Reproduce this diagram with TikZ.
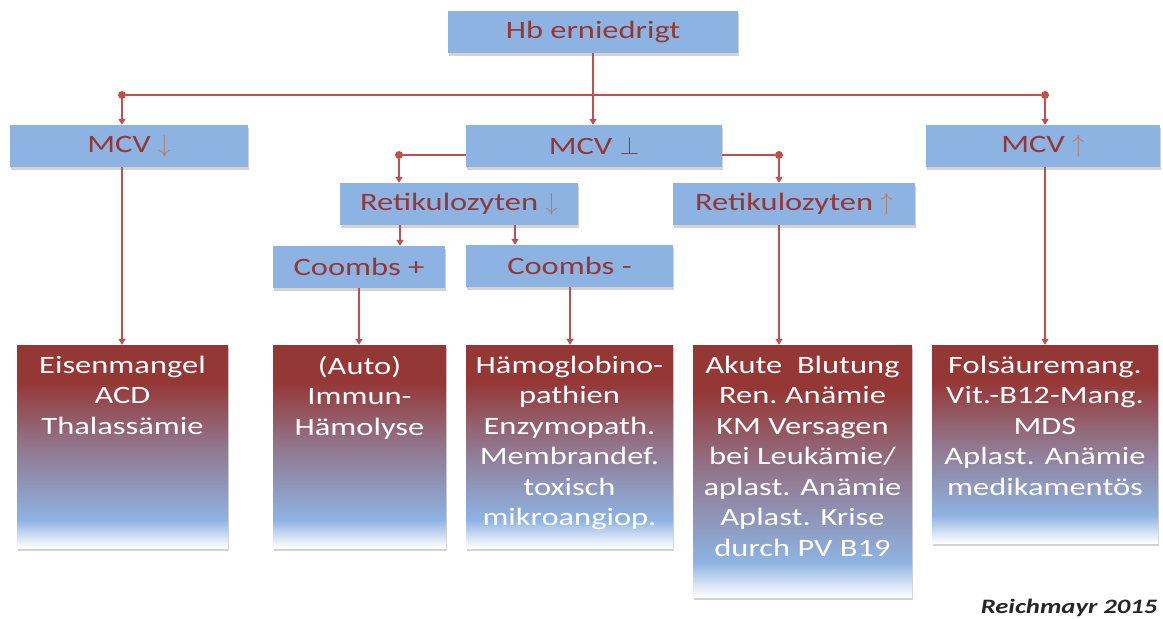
\documentclass[tikz,border=0pt]{standalone}
\usepackage{fontspec}
\setmainfont{Carlito}[FakeStretch=1.3]
\usetikzlibrary{arrows.meta,positioning,shadows}
\definecolor{boxblue}{RGB}{141,179,226}
\definecolor{boxred}{RGB}{149,55,53}
\definecolor{linered}{RGB}{192,80,77}
\definecolor{mauve}{RGB}{146,118,140}
\definecolor{arrowcol}{RGB}{180,125,105}
\pgfdeclareverticalshading{redfade}{100bp}{color(0bp)=(white); color(25bp)=(white); color(32bp)=(boxblue); color(50bp)=(mauve); color(66bp)=(boxred); color(100bp)=(boxred)}
\begin{document}
\begin{tikzpicture}[x=1pt, y=-1pt,
  topbox/.style={fill=boxblue, text=boxred, inner sep=0pt, minimum height=42pt,
    font=\fontsize{25}{30}\selectfont,
    drop shadow={shadow xshift=1pt, shadow yshift=-3pt, opacity=.35}},
  endbox/.style={shading=redfade, inner sep=0pt,
    drop shadow={shadow xshift=1pt, shadow yshift=-3pt, opacity=.35}},
  endtxt/.style={text=white, align=center, inner sep=0pt, font=\fontsize{25}{30.5}\selectfont},
  link/.style={draw=linered, line width=1.6pt},
  conn/.style={link, -{Triangle[length=6pt,width=7pt]}},
  dot/.style={circle, fill=linered, inner sep=0pt, minimum size=8pt}]
\useasboundingbox (0,0) rectangle (1163,619);

\node[topbox, minimum width=290pt] (hb) at (593,32) {Hb erniedrigt};
\node[topbox, minimum width=238pt] (mcvd) at (129,146) {MCV {\color{arrowcol}$\downarrow$}};
\node[topbox, minimum width=256pt] (mcvn) at (594,146) {MCV $\perp$};
\node[topbox, minimum width=234pt] (mcvu) at (1043,146) {MCV {\color{arrowcol}$\uparrow$}};
\node[topbox, minimum width=238pt] (retd) at (459,204) {Retikulozyten {\color{arrowcol}$\downarrow$}};
\node[topbox, minimum width=242pt] (retu) at (794,204) {Retikulozyten {\color{arrowcol}$\uparrow$}};
\node[topbox, minimum width=172pt] (coomp) at (359,267) {Coombs +};
\node[topbox, minimum width=207pt] (coomn) at (569.5,266) {Coombs -};

\node[endbox, minimum width=211pt, minimum height=203pt] (e1) at (122.5,446.5) {};
\node[endbox, minimum width=173pt, minimum height=203pt] (e2) at (359.5,446.5) {};
\node[endbox, minimum width=207pt, minimum height=203pt] (e3) at (569.5,446.5) {};
\node[endbox, minimum width=219pt, minimum height=252pt] (e4) at (802.5,471) {};
\node[endbox, minimum width=226pt, minimum height=198pt] (e5) at (1045,444) {};

\node[endtxt, below=11pt of e1.north] (t1) {Eisenmangel\\ACD\\Thalassämie};
\node[endtxt, below=11pt of e2.north] (t2) {(Auto)\\Immun-\\Hämolyse};
\node[endtxt, below=11pt of e3.north] (t3) {Hämoglobino-\\pathien\\Enzymopath.\\Membrandef.\\toxisch\\mikroangiop.};
\node[endtxt, below=11pt of e4.north] (t4) {Akute\ \ Blutung\\Ren.\ Anämie\\KM Versagen\\bei Leukämie/\\aplast. Anämie\\Aplast. Krise\\durch PV B19};
\node[endtxt, below=11pt of e5.north] (t5) {Folsäuremang.\\Vit.-B12-Mang.\\MDS\\Aplast. Anämie\\medikamentös};

\node[dot] (busl) at (122,95) {};
\node[dot] (busr) at (1045,95) {};
\node[dot] (retl) at (399,155) {};
\node[dot] (retr) at (779,155) {};
\coordinate (cp) at (400,0);
\coordinate (cn) at (515,0);
\coordinate (ce) at (570,0);

\draw[link] (busl) -- (busr);
\draw[conn] (hb.south) -- (hb.south |- mcvn.north);
\draw[conn] (busl) -- (busl |- mcvd.north);
\draw[conn] (busr) -- (busr |- mcvu.north);
\draw[link] (mcvn.west |- retl) -- (retl);
\draw[link] (mcvn.east |- retr) -- (retr);
\draw[conn] (retl) -- (retl |- retd.north);
\draw[conn] (retr) -- (retr |- retu.north);
\draw[conn] (retd.south -| cp) -- (coomp.north -| cp);
\draw[conn] (retd.south -| cn) -- (coomn.north -| cn);
\draw[conn] (busl |- mcvd.south) -- (busl |- e1.north);
\draw[conn] (coomp.south) -- (coomp.south |- e2.north);
\draw[conn] (coomn.south -| ce) -- (e3.north -| ce);
\draw[conn] (retu.south -| retr) -- (retr |- e4.north);
\draw[conn] (busr |- mcvu.south) -- (busr |- e5.north);

\node[anchor=base east, text=black!85, font=\fontsize{20.5}{24}\selectfont\bfseries\itshape] (credit) at (1161,613) {Reichmayr 2015};
\end{tikzpicture}
\end{document}
